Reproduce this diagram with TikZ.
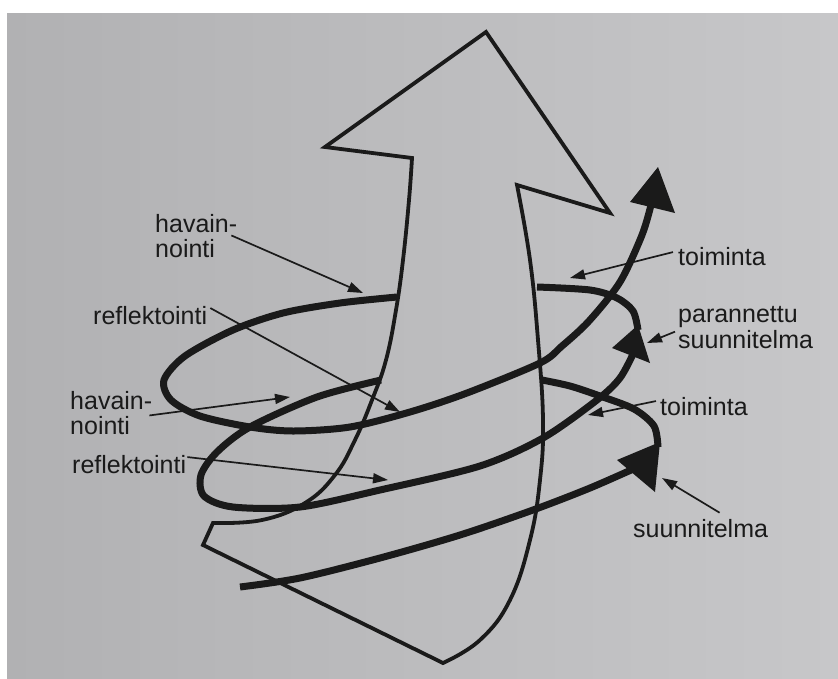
\documentclass[tikz,border=0pt]{standalone}
\usepackage{fontspec}
\setmainfont{Liberation Sans}
\usetikzlibrary{arrows.meta}

\definecolor{ink}{RGB}{26,26,26}
\definecolor{pageL}{RGB}{177,177,179}
\definecolor{pageR}{RGB}{199,199,201}

\tikzset{
  lab/.style={anchor=base west, inner sep=0pt, font=\fontsize{25}{24}\selectfont, text=ink},
  ptr/.style={line width=1.7pt, draw=ink, -{Triangle[length=15pt,width=10pt]}},
  spiral/.style={line width=7pt, draw=ink},
  outline/.style={line width=3.8pt, draw=ink, line join=miter},
  head/.style={fill=ink}
}

\begin{document}
\begin{tikzpicture}[x=1pt,y=-1pt]
  \useasboundingbox (0,0) rectangle (838,678);
  \fill[white] (0,0) rectangle (838,678);
  \shade[left color=pageL, right color=pageR] (7,13) rectangle (838,678);

  % big arrow
  \draw[outline] (486,32) -- (610,213) -- (517,185)
    -- plot[smooth, tension=0.7] coordinates {(517,185) (530,260) (538,340) (543,420) (540,480) (530,540) (510,600) (480,640) (443,663)}
    -- (203,545) -- (213,523)
    -- plot[smooth, tension=0.7] coordinates {(213,523) (262,520) (305,503) (335,475) (355,440) (372,400) (386,360) (396,310) (403,260) (409,200) (412,158)}
    -- (325,147) -- cycle;

  % spiral, first turn
  \draw[spiral] plot[smooth] coordinates {(240,587) (300,578) (380,558) (460,535) (533,510) (590,488) (640,466)};
  \fill[head] (617,460) -- (660,442) -- (655,492) -- cycle;
  \draw[spiral] plot[smooth] coordinates {(658,447) (654,426) (634,409) (600,396) (570,386) (542,380)};
  \draw[spiral] plot[smooth] coordinates {(381,380) (317,397) (250,427) (217,452) (201,475) (204,496) (233,507) (300,507) (380,490) (480,466) (543,438) (597,400) (620,378) (634,352)};
  \fill[head] (612,348) -- (638,325) -- (650,363) -- cycle;

  % spiral, second turn
  \draw[spiral] plot[smooth] coordinates {(638,330) (633,311) (617,298) (590,290) (537,287)};
  \draw[spiral] plot[smooth] coordinates {(397,297) (340,303) (283,313) (233,330) (185,356) (164,380) (171,400) (200,416) (250,427) (293,431) (350,427) (410,412) (467,393) (540,363) (562,346) (589,321) (620,282) (642,235) (651,205)};
  \fill[head] (630,202) -- (658,167) -- (675,213) -- cycle;

  % labels
  \node[lab] (havA1) at (155,232) {havain-};
  \node[lab] (havA2) at (155,257) {nointi};
  \node[lab] (refA) at (93,324) {reflektointi};
  \node[lab] (havB1) at (70,409) {havain-};
  \node[lab] (havB2) at (70,434) {nointi};
  \node[lab] (refB) at (72,473) {reflektointi};
  \node[lab] (toiA) at (678,265) {toiminta};
  \node[lab] (parA1) at (678,322) {parannettu};
  \node[lab] (parA2) at (678,348) {suunnitelma};
  \node[lab] (toiB) at (660,415) {toiminta};
  \node[lab] (suuA) at (633,537) {suunnitelma};

  \coordinate (tHavA) at (363,293);
  \coordinate (tRefA) at (400,412);
  \coordinate (tHavB) at (290,397);
  \coordinate (tRefB) at (388,480);
  \coordinate (tToiA) at (570,278);
  \coordinate (tParA) at (647,343);
  \coordinate (tToiB) at (588,415);
  \coordinate (tSuuA) at (662,478);

  \draw[ptr] ([shift={(-6,3)}]havA1.south east) -- (tHavA);
  \draw[ptr] ([shift={(3,-7)}]refA.east) -- (tRefA);
  \draw[ptr] ([shift={(-3,6)}]havB1.south east) -- (tHavB);
  \draw[ptr] ([shift={(1,-7)}]refB.east) -- (tRefB);
  \draw[ptr] ([shift={(-5,-4)}]toiA.west) -- (tToiA);
  \draw[ptr] ([shift={(-3,2)}]parA2.north west) -- (tParA);
  \draw[ptr] ([shift={(-4,-5)}]toiB.west) -- (tToiB);
  \draw[ptr] ([shift={(19,-6)}]suuA.north) -- (tSuuA);
\end{tikzpicture}
\end{document}
